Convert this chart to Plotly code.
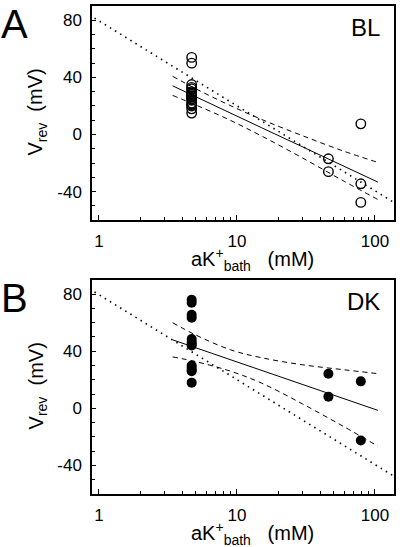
import plotly.graph_objects as go

# ---------------- data ----------------
# Panel A (BL) - open circles
a_x = [4.7]*17 + [46, 46, 79, 79, 79]
a_y = [54, 50, 35, 33, 32, 30, 29, 28, 27, 26, 25, 24, 22, 21, 20, 18, 15,
       -17, -26, 7.5, -34.5, -47.5]
# regression line and 95% band (A)
a_fit_x = [3.42, 5, 8.5, 15, 30, 60, 105]
a_fit_y = [34.1, 26.5, 16.1, 4.9, -8.7, -22.3, -33.3]
a_up_y = [40.8, 32.2, 21.3, 10.7, -0.9, -11.8, -19.5]
a_lo_y = [27.4, 20.8, 11.0, -0.9, -16.5, -32.8, -45.5]

# Panel B (DK) - filled circles
b_x = [4.7]*13 + [46, 46, 79, 79]
b_y = [76, 74, 65.5, 63.5, 48.5, 46.5, 45, 44, 30, 28.5, 27, 26, 18,
       24.2, 8.2, 18.9, -22.5]
b_fit_x = [3.42, 5, 9, 15, 30, 60, 105]
b_fit_y = [48.0, 42.5, 34.0, 26.7, 16.7, 6.7, -1.4]
b_up_y = [60.0, 51.5, 41.0, 35.5, 30.5, 27.0, 24.3]
b_lo_y = [36.0, 32.8, 26.0, 17.8, 3.0, -13.0, -26.5]

# Nernst (dotted) line, same in both panels
nernst_x = [0.93, 137]
nernst_y = [81.5, -47.5]

x_ticks = [1, 10, 100]
x_minor = [2, 3, 4, 5, 6, 7, 8, 9, 20, 30, 40, 50, 60, 70, 80, 90]
y_ticks = [-40, 0, 40, 80]
y_ticktext = ["-40", "0", "40", "80"]

FONT = "Liberation Sans, Arial, sans-serif"

fig = go.Figure()


def add_panel(xs, ys, fx, fy, uy, ly, filled, xa, ya):
    fig.add_trace(go.Scatter(x=nernst_x, y=nernst_y, mode="lines",
                             line=dict(color="black", width=1.6, dash="1.5px,4.5px"),
                             xaxis=xa, yaxis=ya, showlegend=False))
    for yy in (uy, ly):
        fig.add_trace(go.Scatter(x=fx, y=yy, mode="lines",
                                 line=dict(color="black", width=1, dash="5px,4px", shape="spline"),
                                 xaxis=xa, yaxis=ya, showlegend=False))
    fig.add_trace(go.Scatter(x=fx, y=fy, mode="lines",
                             line=dict(color="black", width=1),
                             xaxis=xa, yaxis=ya, showlegend=False))
    if filled:
        marker = dict(symbol="circle", size=10, color="black")
    else:
        marker = dict(symbol="circle-open", size=9.5, color="black", line=dict(width=1.4, color="black"))
    fig.add_trace(go.Scatter(x=xs, y=ys, mode="markers", marker=marker,
                             xaxis=xa, yaxis=ya, showlegend=False))


add_panel(a_x, a_y, a_fit_x, a_fit_y, a_up_y, a_lo_y, False, "x", "y")
add_panel(b_x, b_y, b_fit_x, b_fit_y, b_up_y, b_lo_y, True, "x2", "y2")

xax = dict(type="log", range=[-0.05, 2.138], tickmode="array", tickvals=x_ticks,
           ticktext=[str(v) for v in x_ticks],
           ticks="inside", ticklen=5, tickwidth=1, tickcolor="black",
           minor=dict(tickmode="array", tickvals=x_minor, ticks="inside", ticklen=3,
                      tickwidth=1, tickcolor="black"),
           showline=True, linecolor="black", linewidth=1.5, mirror=True,
           showgrid=False, zeroline=False, ticklabelstandoff=5,
           tickfont=dict(family=FONT, size=17, color="black"))
yax = dict(range=[-60, 90], tickmode="array", tickvals=y_ticks, ticktext=y_ticktext,
           ticks="inside", ticklen=4, tickwidth=1, tickcolor="black",
           minor=dict(dtick=10, tick0=0, ticks="inside", ticklen=3, tickwidth=1,
                      tickcolor="black"),
           showline=True, linecolor="black", linewidth=1.5, mirror=True,
           showgrid=False, zeroline=False, ticklabelstandoff=5,
           tickfont=dict(family=FONT, size=17, color="black"))

fig.update_layout(
    width=400, height=547,
    margin=dict(l=92, r=6, t=4, b=53),
    paper_bgcolor="white", plot_bgcolor="white",
    xaxis=dict(**xax, anchor="y"),
    yaxis=dict(**yax, domain=[0.561, 1.0], anchor="x"),
    xaxis2=dict(**xax, anchor="y2"),
    yaxis2=dict(**yax, domain=[0.0, 0.4388], anchor="x2"),
)

ann_font = dict(family=FONT, color="black")
xtitle = "aK<sup>+</sup><sub>bath</sub>\u00a0\u00a0\u00a0(mM)"
ytitle = "V<sub>rev</sub>\u00a0\u00a0(mV)"
anns = []
for (py_off, letter, label) in ((0, "A", "BL"), (275, "B", "DK")):
    def py(y):
        return (494 - (y + py_off)) / 490.0

    def px(x):
        return (x - 92) / 302.0
    anns.append(dict(text=letter, x=px(-1), y=py(-2), xref="paper", yref="paper",
                     xanchor="left", yanchor="top", showarrow=False,
                     font=dict(size=40, **ann_font)))
    anns.append(dict(text=label, x=px(382), y=py(10), xref="paper", yref="paper",
                     xanchor="right", yanchor="top", showarrow=False,
                     font=dict(size=24, **ann_font)))
    anns.append(dict(text=xtitle, x=px(252), y=py(259), xref="paper", yref="paper",
                     xanchor="center", yanchor="middle", showarrow=False,
                     font=dict(size=20, **ann_font)))
    anns.append(dict(text=ytitle, x=px(37), y=py(111), xref="paper", yref="paper",
                     xanchor="center", yanchor="middle", showarrow=False, textangle=-90,
                     font=dict(size=20, **ann_font)))
fig.update_layout(annotations=anns)

fig.write_html("out.html", config={"displayModeBar": False},
               post_script="document.body.style.margin='0';document.body.style.padding='0';")
